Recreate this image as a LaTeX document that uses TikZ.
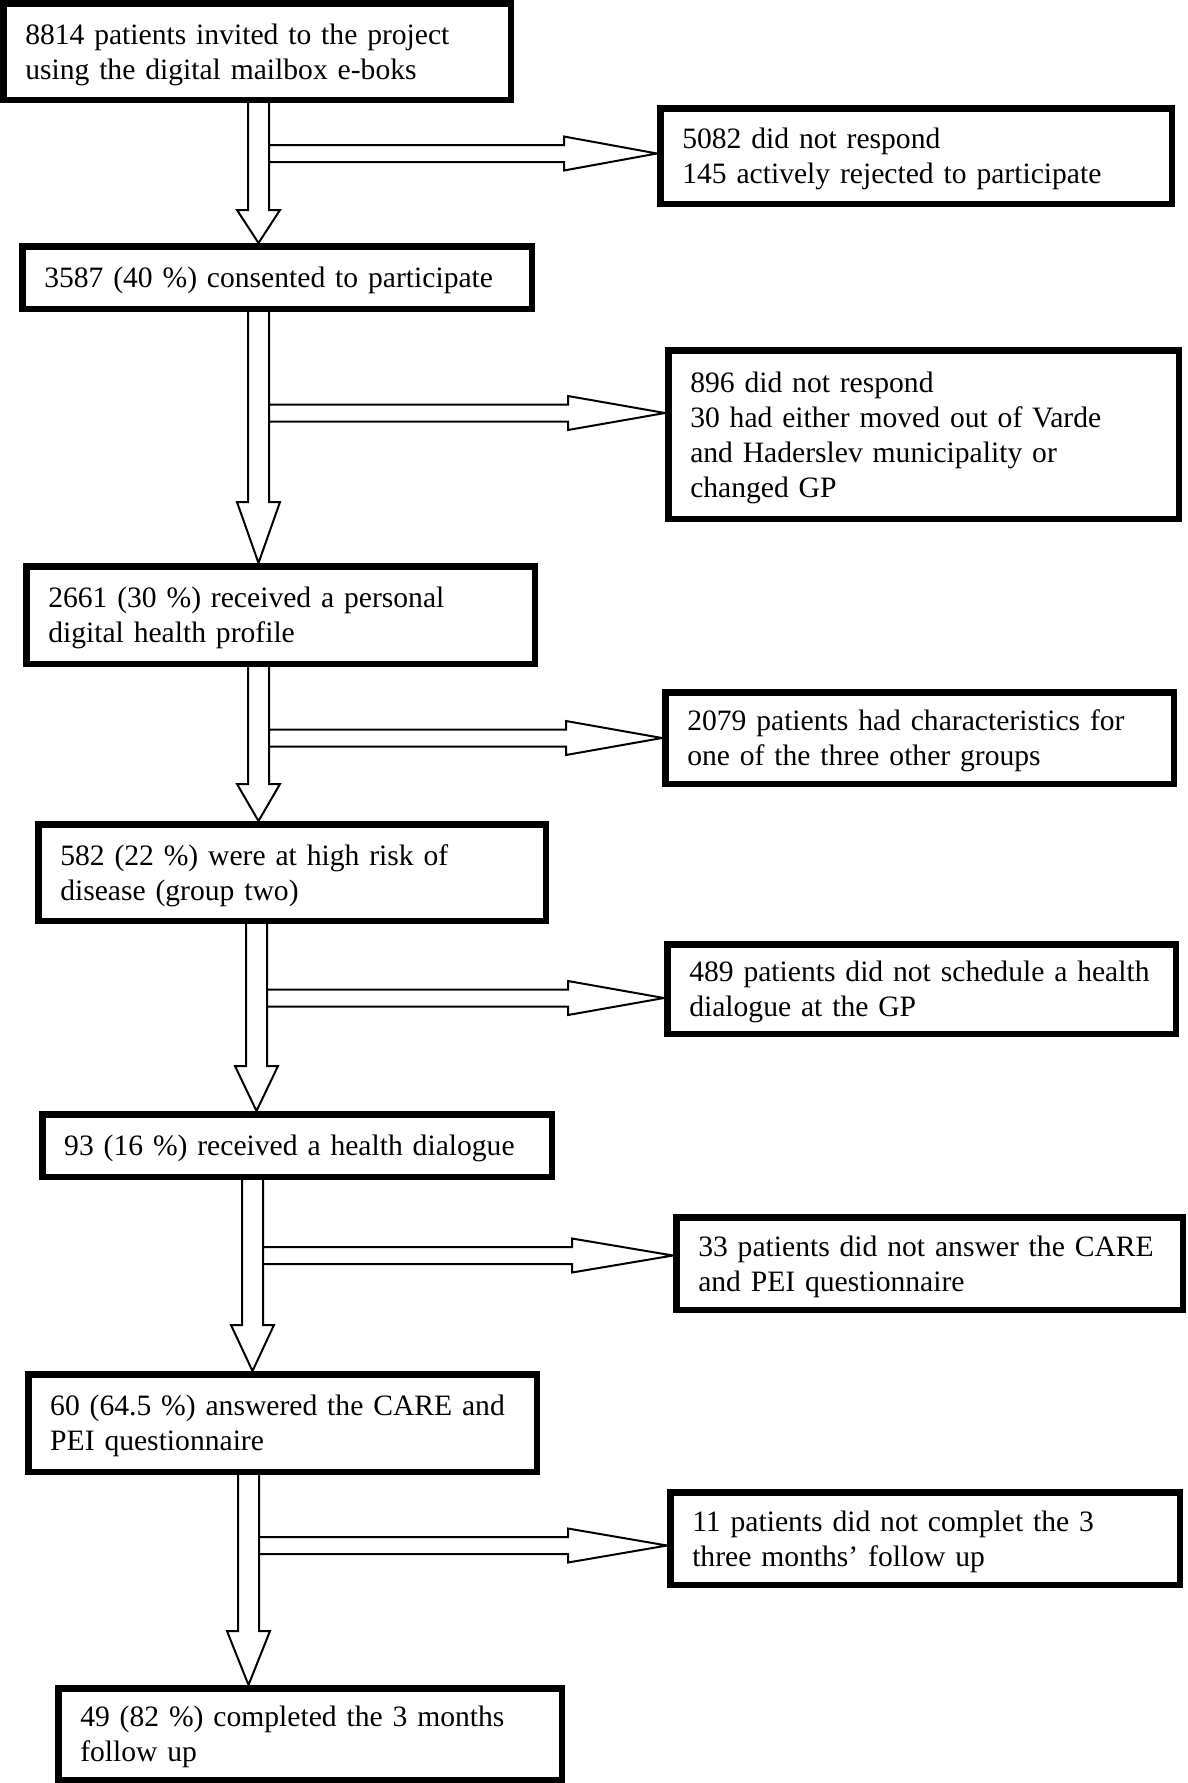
\documentclass[tikz,border=0pt]{standalone}
\usepackage{fontspec}
\setmainfont{Liberation Serif}
\usetikzlibrary{calc}

\tikzset{
  box/.style={draw, line width=3.25pt, inner xsep=11pt, inner ysep=0pt, align=left,
    text height=13.5pt, font=\fontsize{14.8}{17.6}\selectfont},
  flow/.style={line width=1pt, line join=miter}
}

% hollow arrow down: from node, to node, axis coordinate, head length
\newcommand{\downflow}[4]{%
  \draw[flow] ($(#1.south -| #3)+(-10.5,0)$) -- ($(#2.north -| #3)+(-10.5,-#4)$)
    -- ($(#2.north -| #3)+(-21.5,-#4)$) -- (#2.north -| #3)
    -- ($(#2.north -| #3)+(21.5,-#4)$) -- ($(#2.north -| #3)+(10.5,-#4)$)
    -- ($(#1.south -| #3)+(10.5,0)$);}
% hollow arrow right: start coordinate, to node, head length
\newcommand{\sideflow}[3]{%
  \draw[flow] ($(#1)+(0,-8.5)$) -- ($(#2.west |- #1)+(-#3,-8.5)$)
    -- ($(#2.west |- #1)+(-#3,-17)$) -- (#2.west |- #1)
    -- ($(#2.west |- #1)+(-#3,17)$) -- ($(#2.west |- #1)+(-#3,8.5)$)
    -- ($(#1)+(0,8.5)$);}

\begin{document}
\begin{tikzpicture}[x=0.5pt,y=0.5pt,yscale=-1,xscale=1]
\useasboundingbox (0,0) rectangle (1188,1783);

%Shape: Rectangle (left column)
\node[box, text width=231.75pt, minimum height=48.25pt] (invited) at (257,51.5)
  {8814 patients invited to the project\\using the digital mailbox e-boks};
\node[box, text width=232.75pt, minimum height=31.25pt] (consented) at (277,277.5)
  {3587 (40 \%) consented to participate};
\node[box, text width=232.25pt, minimum height=48.75pt] (profile) at (280.5,615)
  {2661 (30 \%) received a personal\\digital health profile};
\node[box, text width=231.75pt, minimum height=48.25pt] (highrisk) at (292,872.5)
  {582 (22 \%) were at high risk of\\disease (group two)};
\node[box, text width=232.75pt, minimum height=31.25pt] (dialogue) at (297,1145.5)
  {93 (16 \%) received a health dialogue};
\node[box, text width=232.25pt, minimum height=48.75pt] (answered) at (282.5,1423)
  {60 (64.5 \%) answered the CARE and\\PEI questionnaire};
\node[box, text width=229.75pt, minimum height=45.75pt] (completed) at (310,1734)
  {49 (82 \%) completed the 3 months\\follow up};

%Shape: Rectangle (right column)
\node[box, text width=233.75pt, minimum height=47.75pt] (noreply) at (916,156)
  {5082 did not respond\\145 actively rejected to participate};
\node[box, text width=233.25pt, minimum height=84.25pt] (moved) at (923.5,434.5)
  {896 did not respond\\30 had either moved out of Varde\\and Haderslev municipality or\\changed GP};
\node[box, text width=232.25pt, minimum height=45.75pt] (othergroups) at (919.5,738)
  {2079 patients had characteristics for\\one of the three other groups};
\node[box, text width=232.25pt, minimum height=44.75pt] (noschedule) at (921.5,989)
  {489 patients did not schedule a health\\dialogue at the GP};
\node[box, text width=231.25pt, minimum height=46.25pt] (noanswer) at (929.5,1263.5)
  {33 patients did not answer the CARE\\and PEI questionnaire};
\node[box, text width=232.75pt, minimum height=46.25pt] (nofollow) at (925,1538.5)
  {11 patients did not complet the 3\\three months’ follow up};

%Axes of the down arrows
\coordinate (a1) at (258.5,0);
\coordinate (a2) at (258.5,0);
\coordinate (a3) at (258.5,0);
\coordinate (a4) at (256.5,0);
\coordinate (a5) at (252.5,0);
\coordinate (a6) at (248.5,0);
%Starts of the side arrows
\coordinate (r1) at (269,153.5);
\coordinate (r2) at (269,413);
\coordinate (r3) at (269,738);
\coordinate (r4) at (267,998);
\coordinate (r5) at (263,1255.5);
\coordinate (r6) at (259,1545.5);

%Down arrows
\downflow{invited}{consented}{a1}{33}
\downflow{consented}{profile}{a2}{61}
\downflow{profile}{highrisk}{a3}{37}
\downflow{highrisk}{dialogue}{a4}{45}
\downflow{dialogue}{answered}{a5}{46}
\downflow{answered}{completed}{a6}{54}

%Side arrows
\sideflow{r1}{noreply}{93}
\sideflow{r2}{moved}{97}
\sideflow{r3}{othergroups}{96}
\sideflow{r4}{noschedule}{96}
\sideflow{r5}{noanswer}{101}
\sideflow{r6}{nofollow}{99}

\end{tikzpicture}
\end{document}
